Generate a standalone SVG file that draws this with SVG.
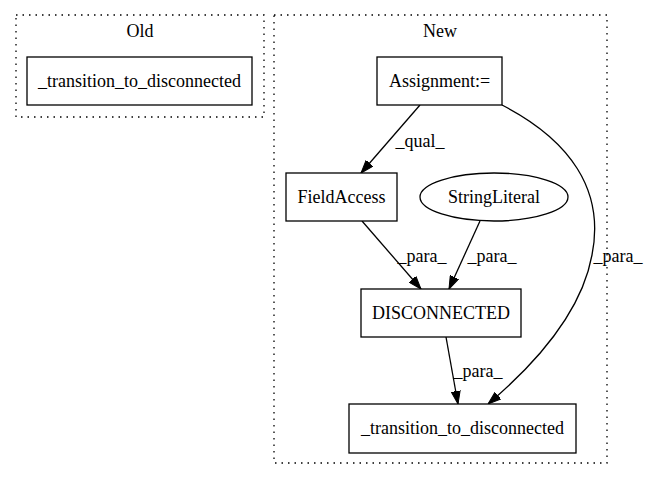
<svg xmlns="http://www.w3.org/2000/svg" width="645" height="480" viewBox="0 0 645 480">
<style>
text{font-family:"Liberation Serif","Times New Roman",serif;font-size:18px;fill:#000;text-anchor:middle}
.cl{fill:none;stroke:#000;stroke-dasharray:1.5,5;stroke-width:1.3}
.n{fill:#fff;stroke:#000;stroke-width:1.3}
.e{fill:none;stroke:#000;stroke-width:1.3}
</style>
<defs>
<marker id="ah" viewBox="0 0 13 10" refX="13" refY="5" markerWidth="13" markerHeight="10" markerUnits="userSpaceOnUse" orient="auto">
<path d="M0,0.5 L13,5 L0,9.5 Z" fill="#000" stroke="#000"/>
</marker>
</defs>
<rect width="645" height="480" fill="#fff"/>
<g id="cluster_old">
<rect class="cl" x="16" y="15" width="248" height="102"/>
<text x="140" y="37">Old</text>
</g>
<g id="cluster_new">
<rect class="cl" x="274" y="15" width="333" height="448"/>
<text x="440" y="37">New</text>
</g>
<g id="connectors">
<path class="e" d="M420,105 L361,173" marker-end="url(#ah)"/>
<text x="420" y="147">_qual_</text>
<path class="e" d="M362,221 L421,289" marker-end="url(#ah)"/>
<text x="422" y="262">_para_</text>
<path class="e" d="M480,221 L449,289" marker-end="url(#ah)"/>
<text x="492" y="262">_para_</text>
<path class="e" d="M502,105 C570,140 605,190 592,255 C582,310 540,360 488,404" marker-end="url(#ah)"/>
<text x="618" y="262">_para_</text>
<path class="e" d="M446,337 L458,404" marker-end="url(#ah)"/>
<text x="478" y="377">_para_</text>
</g>
<g id="old_transition">
<rect class="n" x="27" y="57" width="225" height="48"/>
<text x="139.5" y="87">_transition_to_disconnected</text>
</g>
<g id="assignment">
<rect class="n" x="377" y="57" width="125" height="48"/>
<text x="439.5" y="87">Assignment:=</text>
</g>
<g id="fieldaccess">
<rect class="n" x="286" y="173" width="111" height="48"/>
<text x="341.5" y="203">FieldAccess</text>
</g>
<g id="stringliteral">
<ellipse class="n" cx="494" cy="197" rx="74" ry="24"/>
<text x="494" y="203">StringLiteral</text>
</g>
<g id="disconnected">
<rect class="n" x="361" y="289" width="160" height="48"/>
<text x="441" y="319">DISCONNECTED</text>
</g>
<g id="new_transition">
<rect class="n" x="349" y="404" width="227" height="49"/>
<text x="462.5" y="434">_transition_to_disconnected</text>
</g>
</svg>
